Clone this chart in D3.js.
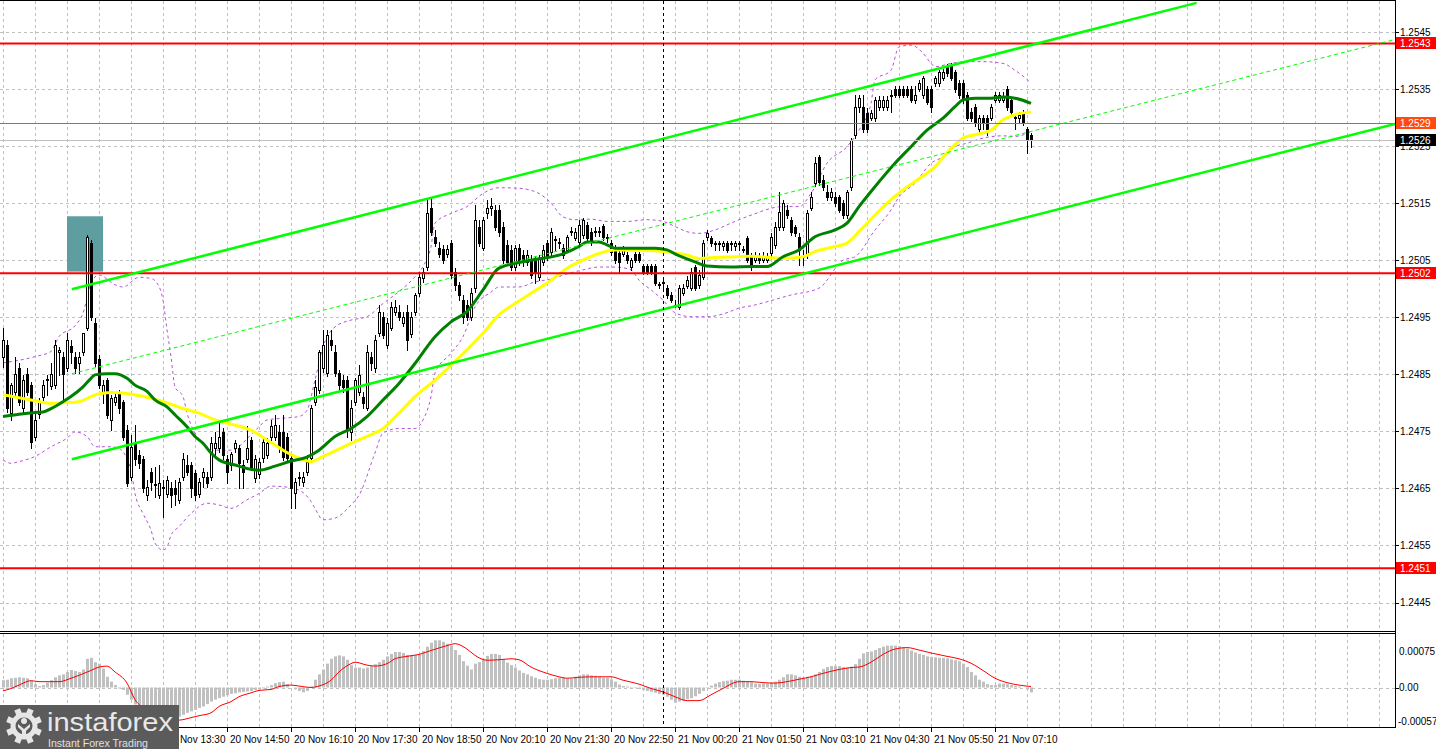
<!DOCTYPE html>
<html><head><meta charset="utf-8">
<script src="https://cdn.jsdelivr.net/npm/d3@7"></script>
<style>
body{margin:0;background:#fff;}
svg{display:block;}
text{font-family:"Liberation Sans",Arial,sans-serif;}
</style>
</head><body>
<svg id="c" width="1436" height="749"></svg>
<script>
// ---------------- DATA ----------------
const open=[1.24880,1.24901,1.24782,1.24819,1.24861,1.24791,1.24851,1.24831,1.24740,1.24780,
1.24810,1.24840,1.24830,1.24831,1.24889,1.24880,1.24861,1.24900,1.24880,1.24870,
1.24889,1.24931,1.25080,1.24940,1.24877,1.24819,1.24840,1.24770,1.24802,1.24819,
1.24802,1.24752,1.24670,1.24730,1.24709,1.24702,1.24639,1.24679,1.24656,1.24639,
1.24651,1.24640,1.24651,1.24651,1.24630,1.24670,1.24691,1.24691,1.24677,1.24640,
1.24670,1.24670,1.24670,1.24721,1.24721,1.24749,1.24702,1.24691,1.24721,1.24721,
1.24691,1.24702,1.24735,1.24668,1.24675,1.24703,1.24709,1.24740,1.24740,1.24749,
1.24749,1.24740,1.24703,1.24642,1.24668,1.24661,1.24679,1.24703,1.24802,1.24823,
1.24861,1.24852,1.24910,1.24889,1.24852,1.24840,1.24840,1.24749,1.24802,1.24819,
1.24810,1.24791,1.24880,1.24861,1.24922,1.24951,1.24901,1.24931,1.24959,1.24959,
1.24940,1.24959,1.24921,1.24959,1.24993,1.25019,1.25038,1.25142,1.25091,1.25071,
1.25070,1.25061,1.25080,1.25029,1.25007,1.24980,1.24972,1.24951,1.25001,1.25108,
1.25071,1.25133,1.25142,1.25138,1.25138,1.25108,1.25077,1.25068,1.25038,1.25071,
1.25059,1.25047,1.25050,1.25050,1.25021,1.25047,1.25080,1.25064,1.25085,1.25080,
1.25071,1.25068,1.25099,1.25089,1.25082,1.25094,1.25112,1.25099,1.25099,1.25099,
1.25110,1.25089,1.25080,1.25071,1.25063,1.25061,1.25059,1.25038,1.25061,1.25061,
1.25040,1.25040,1.25040,1.25040,1.25007,1.25010,1.25001,1.24989,1.24970,1.24968,
1.24993,1.25005,1.25001,1.25038,1.25007,1.25021,1.25091,1.25089,1.25078,1.25078,
1.25075,1.25080,1.25078,1.25075,1.25078,1.25068,1.25089,1.25057,1.25050,1.25057,
1.25050,1.25050,1.25063,1.25077,1.25108,1.25108,1.25138,1.25121,1.25108,1.25091,
1.25056,1.25059,1.25142,1.25185,1.25231,1.25191,1.25170,1.25161,1.25161,1.25161,
1.25150,1.25129,1.25178,1.25270,1.25319,1.25319,1.25308,1.25299,1.25299,1.25319,
1.25319,1.25319,1.25338,1.25350,1.25350,1.25350,1.25350,1.25350,1.25331,1.25350,
1.25340,1.25350,1.25350,1.25361,1.25361,1.25369,1.25390,1.25390,1.25380,1.25361,
1.25361,1.25340,1.25310,1.25319,1.25280,1.25299,1.25299,1.25299,1.25331,1.25331,
1.25331,1.25350,1.25331,1.25299,1.25299,1.25310,1.25280,1.25270];
const high=[1.24931,1.24910,1.24835,1.24880,1.24870,1.24849,1.24861,1.24837,1.24782,1.24809,
1.24840,1.24849,1.24870,1.24910,1.24898,1.24889,1.24922,1.24910,1.24889,1.24889,
1.24922,1.25094,1.25085,1.24949,1.24884,1.24840,1.24844,1.24814,1.24817,1.24823,
1.24805,1.24761,1.24744,1.24761,1.24717,1.24707,1.24665,1.24686,1.24688,1.24691,
1.24665,1.24672,1.24661,1.24665,1.24668,1.24712,1.24709,1.24696,1.24682,1.24668,
1.24686,1.24679,1.24740,1.24749,1.24770,1.24756,1.24709,1.24714,1.24735,1.24726,
1.24700,1.24759,1.24740,1.24709,1.24703,1.24740,1.24738,1.24770,1.24779,1.24761,
1.24779,1.24747,1.24709,1.24668,1.24679,1.24679,1.24709,1.24796,1.24840,1.24893,
1.24928,1.24928,1.24928,1.24901,1.24858,1.24849,1.24847,1.24805,1.24844,1.24866,
1.24819,1.24901,1.24889,1.24919,1.24972,1.24959,1.24949,1.24977,1.24980,1.24972,
1.24959,1.24972,1.24959,1.24993,1.25029,1.25036,1.25159,1.25161,1.25103,1.25082,
1.25077,1.25077,1.25085,1.25036,1.25012,1.24989,1.24980,1.25001,1.25147,1.25121,
1.25126,1.25156,1.25159,1.25147,1.25147,1.25117,1.25085,1.25077,1.25077,1.25078,
1.25068,1.25068,1.25059,1.25057,1.25059,1.25077,1.25085,1.25107,1.25092,1.25089,
1.25078,1.25094,1.25108,1.25107,1.25121,1.25124,1.25117,1.25107,1.25108,1.25108,
1.25114,1.25096,1.25085,1.25077,1.25068,1.25075,1.25064,1.25054,1.25064,1.25064,
1.25043,1.25043,1.25043,1.25043,1.25012,1.25015,1.25007,1.24994,1.24980,1.25007,
1.25008,1.25022,1.25036,1.25042,1.25033,1.25085,1.25103,1.25092,1.25084,1.25084,
1.25084,1.25084,1.25084,1.25084,1.25084,1.25075,1.25092,1.25063,1.25064,1.25063,
1.25064,1.25063,1.25098,1.25117,1.25170,1.25156,1.25147,1.25126,1.25112,1.25098,
1.25068,1.25138,1.25170,1.25231,1.25234,1.25199,1.25182,1.25177,1.25170,1.25164,
1.25156,1.25173,1.25264,1.25340,1.25340,1.25340,1.25317,1.25313,1.25336,1.25338,
1.25338,1.25338,1.25348,1.25355,1.25355,1.25355,1.25355,1.25355,1.25355,1.25366,
1.25373,1.25355,1.25355,1.25373,1.25383,1.25385,1.25394,1.25396,1.25383,1.25366,
1.25366,1.25345,1.25317,1.25324,1.25305,1.25305,1.25305,1.25324,1.25345,1.25345,
1.25345,1.25355,1.25336,1.25305,1.25310,1.25313,1.25284,1.25273];
const low=[1.24863,1.24784,1.24770,1.24814,1.24796,1.24782,1.24814,1.24721,1.24735,1.24773,
1.24805,1.24814,1.24824,1.24826,1.24849,1.24800,1.24856,1.24870,1.24852,1.24852,
1.24884,1.24928,1.24945,1.24865,1.24826,1.24800,1.24773,1.24752,1.24796,1.24782,
1.24735,1.24654,1.24665,1.24691,1.24686,1.24644,1.24630,1.24647,1.24635,1.24633,
1.24600,1.24635,1.24617,1.24621,1.24624,1.24665,1.24674,1.24635,1.24630,1.24635,
1.24653,1.24653,1.24665,1.24703,1.24714,1.24702,1.24660,1.24682,1.24714,1.24651,
1.24651,1.24696,1.24682,1.24661,1.24668,1.24696,1.24703,1.24735,1.24735,1.24714,
1.24700,1.24696,1.24616,1.24616,1.24656,1.24654,1.24674,1.24696,1.24796,1.24817,
1.24854,1.24847,1.24893,1.24847,1.24823,1.24819,1.24740,1.24735,1.24796,1.24814,
1.24791,1.24787,1.24858,1.24854,1.24917,1.24914,1.24896,1.24928,1.24954,1.24945,
1.24935,1.24893,1.24915,1.24954,1.24987,1.25012,1.25033,1.25094,1.25075,1.25056,
1.25045,1.25056,1.25019,1.24998,1.24980,1.24940,1.24945,1.24945,1.24994,1.25075,
1.25068,1.25124,1.25129,1.25103,1.25092,1.25045,1.25042,1.25033,1.25033,1.25042,
1.25040,1.25042,1.25019,1.25010,1.25015,1.25042,1.25050,1.25059,1.25068,1.25071,
1.25054,1.25064,1.25094,1.25085,1.25077,1.25089,1.25085,1.25077,1.25092,1.25092,
1.25085,1.25082,1.25059,1.25045,1.25029,1.25057,1.25045,1.25033,1.25047,1.25047,
1.25026,1.25026,1.25026,1.25007,1.25001,1.25001,1.24984,1.24977,1.24968,1.24965,
1.24989,1.25001,1.24998,1.24998,1.25001,1.25017,1.25085,1.25075,1.25068,1.25068,
1.25068,1.25064,1.25068,1.25068,1.25068,1.25064,1.25047,1.25033,1.25047,1.25045,
1.25047,1.25047,1.25057,1.25071,1.25103,1.25103,1.25124,1.25094,1.25092,1.25042,
1.25042,1.25054,1.25138,1.25180,1.25182,1.25173,1.25156,1.25156,1.25145,1.25135,
1.25124,1.25124,1.25173,1.25264,1.25310,1.25275,1.25275,1.25296,1.25294,1.25313,
1.25313,1.25313,1.25310,1.25336,1.25336,1.25336,1.25336,1.25327,1.25326,1.25347,
1.25334,1.25324,1.25310,1.25355,1.25355,1.25366,1.25373,1.25366,1.25345,1.25334,
1.25326,1.25296,1.25294,1.25285,1.25275,1.25280,1.25270,1.25296,1.25327,1.25327,
1.25327,1.25313,1.25305,1.25280,1.25292,1.25287,1.25238,1.25248];
const close=[1.24910,1.24791,1.24831,1.24851,1.24802,1.24840,1.24819,1.24731,1.24770,1.24802,
1.24831,1.24842,1.24851,1.24901,1.24893,1.24851,1.24910,1.24889,1.24861,1.24880,
1.24922,1.25091,1.24951,1.24870,1.24831,1.24831,1.24779,1.24809,1.24810,1.24791,
1.24740,1.24660,1.24723,1.24702,1.24695,1.24651,1.24653,1.24661,1.24658,1.24660,
1.24653,1.24665,1.24639,1.24640,1.24661,1.24702,1.24679,1.24651,1.24639,1.24661,
1.24679,1.24660,1.24730,1.24730,1.24740,1.24709,1.24679,1.24710,1.24730,1.24695,
1.24679,1.24721,1.24688,1.24702,1.24696,1.24731,1.24730,1.24759,1.24761,1.24721,
1.24705,1.24703,1.24651,1.24661,1.24670,1.24670,1.24696,1.24791,1.24828,1.24889,
1.24901,1.24919,1.24901,1.24852,1.24831,1.24828,1.24752,1.24791,1.24840,1.24849,
1.24800,1.24889,1.24870,1.24910,1.24959,1.24919,1.24940,1.24968,1.24968,1.24951,
1.24951,1.24910,1.24951,1.24989,1.25021,1.25029,1.25133,1.25099,1.25080,1.25061,
1.25050,1.25070,1.25024,1.25007,1.24989,1.24951,1.24951,1.24993,1.25121,1.25080,
1.25121,1.25142,1.25145,1.25108,1.25099,1.25050,1.25047,1.25038,1.25071,1.25047,
1.25047,1.25059,1.25024,1.25029,1.25054,1.25068,1.25056,1.25099,1.25087,1.25082,
1.25059,1.25091,1.25101,1.25099,1.25112,1.25121,1.25089,1.25082,1.25101,1.25101,
1.25091,1.25091,1.25064,1.25050,1.25047,1.25070,1.25050,1.25050,1.25050,1.25050,
1.25029,1.25029,1.25029,1.25010,1.25008,1.25012,1.24989,1.24980,1.24972,1.25001,
1.25001,1.25015,1.25029,1.25001,1.25024,1.25080,1.25098,1.25080,1.25080,1.25080,
1.25080,1.25068,1.25080,1.25080,1.25080,1.25070,1.25050,1.25038,1.25057,1.25050,
1.25057,1.25056,1.25091,1.25108,1.25135,1.25150,1.25129,1.25099,1.25098,1.25068,
1.25057,1.25133,1.25161,1.25220,1.25187,1.25178,1.25161,1.25170,1.25150,1.25138,
1.25129,1.25170,1.25261,1.25319,1.25334,1.25280,1.25280,1.25308,1.25331,1.25331,
1.25331,1.25331,1.25340,1.25340,1.25340,1.25340,1.25340,1.25331,1.25340,1.25361,
1.25369,1.25327,1.25319,1.25369,1.25380,1.25380,1.25378,1.25369,1.25350,1.25340,
1.25331,1.25299,1.25299,1.25291,1.25299,1.25291,1.25280,1.25319,1.25340,1.25340,
1.25338,1.25319,1.25310,1.25301,1.25305,1.25291,1.25261,1.25261];

// moving averages / bands: [bar index, price]
const maGreen=[[0,1.24776],[4,1.24780],[8,1.24783],[10,1.24784],[12,1.24790],[15,1.24802],[17,1.24811],[20,1.24828],[22,1.24843],[23,1.24849],
[26,1.24851],[28,1.24851],[31,1.24843],[33,1.24831],[36,1.24820],[38,1.24805],[41,1.24793],[43,1.24779],[46,1.24758],[48,1.24741],
[50,1.24729],[52,1.24712],[54,1.24700],[58,1.24691],[61,1.24685],[64,1.24682],[68,1.24689],[72,1.24698],[76,1.24705],[79,1.24717],
[83,1.24741],[87,1.24755],[91,1.24776],[95,1.24805],[99,1.24834],[103,1.24869],[108,1.24916],[112,1.24942],[116,1.24960],[120,1.24998],
[124,1.25036],[132,1.25050],[140,1.25061],[144,1.25074],[146,1.25082],[149,1.25082],[151,1.25077],[153,1.25071],[163,1.25071],[166,1.25068],
[168,1.25061],[173,1.25047],[176,1.25040],[182,1.25038],[187,1.25039],[191,1.25039],[195,1.25056],[199,1.25068],[203,1.25091],[208,1.25103],
[211,1.25115],[214,1.25144],[218,1.25179],[223,1.25220],[227,1.25249],[231,1.25278],[235,1.25299],[238,1.25319],[240,1.25331],[243,1.25334],
[247,1.25334],[250,1.25336],[253,1.25334],[257,1.25325]];
const maYellow=[[0,1.24814],[7,1.24805],[12,1.24799],[15,1.24800],[19,1.24802],[22,1.24811],[24,1.24816],[28,1.24818],[33,1.24814],[37,1.24808],
[41,1.24800],[45,1.24790],[49,1.24782],[53,1.24770],[58,1.24761],[62,1.24752],[66,1.24735],[70,1.24717],[73,1.24706],[77,1.24697],
[80,1.24706],[87,1.24729],[91,1.24741],[95,1.24755],[99,1.24782],[103,1.24811],[108,1.24840],[112,1.24866],[116,1.24893],[120,1.24922],
[124,1.24954],[128,1.24974],[132,1.24992],[137,1.25015],[141,1.25036],[145,1.25050],[149,1.25062],[153,1.25068],[158,1.25068],[166,1.25065],
[171,1.25059],[174,1.25053],[179,1.25055],[183,1.25056],[187,1.25057],[195,1.25053],[200,1.25056],[203,1.25065],[208,1.25074],[211,1.25080],
[214,1.25100],[218,1.25129],[222,1.25156],[225,1.25173],[228,1.25188],[233,1.25214],[237,1.25246],[240,1.25264],[243,1.25270],[247,1.25278],
[250,1.25296],[253,1.25305],[257,1.25310]];
const bandUpper=[[0,1.24870],[8,1.24881],[12,1.24890],[14,1.24916],[18,1.24935],[20,1.24957],[22,1.25010],[24,1.25024],[28,1.25007],[30,1.25003],
[34,1.25020],[37,1.25018],[39,1.25004],[40,1.24980],[41,1.24928],[42,1.24881],[43,1.24828],[45,1.24811],[46,1.24782],[48,1.24747],
[50,1.24729],[53,1.24717],[57,1.24717],[62,1.24744],[64,1.24758],[66,1.24770],[70,1.24773],[74,1.24776],[76,1.24787],[78,1.24840],
[80,1.24898],[83,1.24933],[87,1.24945],[91,1.24951],[95,1.24974],[99,1.24995],[103,1.25021],[105,1.25039],[107,1.25074],[108,1.25115],
[112,1.25132],[116,1.25144],[120,1.25167],[124,1.25177],[129,1.25176],[134,1.25167],[137,1.25150],[140,1.25126],[143,1.25121],[147,1.25122],
[151,1.25118],[156,1.25118],[161,1.25121],[165,1.25118],[168,1.25109],[171,1.25100],[174,1.25097],[178,1.25103],[182,1.25115],[187,1.25129],
[195,1.25144],[199,1.25144],[202,1.25167],[206,1.25220],[211,1.25249],[214,1.25278],[217,1.25325],[218,1.25366],[222,1.25383],[224,1.25424],
[227,1.25427],[230,1.25413],[232,1.25395],[233,1.25389],[237,1.25395],[241,1.25398],[245,1.25398],[250,1.25395],[253,1.25383],[257,1.25361]];
const bandLower=[[0,1.24700],[2,1.24694],[4,1.24697],[8,1.24706],[12,1.24723],[16,1.24738],[18,1.24749],[21,1.24741],[23,1.24723],[27,1.24723],
[29,1.24720],[32,1.24682],[33,1.24641],[35,1.24606],[37,1.24577],[38,1.24554],[40,1.24542],[41,1.24547],[42,1.24568],[44,1.24583],
[47,1.24606],[51,1.24624],[54,1.24621],[57,1.24615],[61,1.24630],[64,1.24641],[67,1.24654],[70,1.24653],[74,1.24647],[77,1.24627],
[78,1.24615],[80,1.24595],[83,1.24598],[87,1.24621],[89,1.24638],[93,1.24712],[95,1.24747],[99,1.24755],[103,1.24755],[105,1.24770],
[107,1.24811],[108,1.24852],[112,1.24887],[115,1.24916],[118,1.24968],[122,1.24994],[124,1.25003],[129,1.25003],[133,1.25012],[137,1.25017],
[141,1.25026],[145,1.25033],[149,1.25038],[153,1.25038],[157,1.25033],[159,1.25015],[162,1.24998],[165,1.24980],[168,1.24958],[172,1.24951],
[176,1.24951],[181,1.24958],[184,1.24966],[187,1.24970],[197,1.24989],[204,1.25001],[210,1.25050],[213,1.25056],[218,1.25103],[222,1.25138],
[224,1.25161],[228,1.25185],[232,1.25220],[235,1.25231],[238,1.25249],[241,1.25255],[245,1.25264],[250,1.25268],[253,1.25267],[257,1.25275]];

// MACD histogram (one per bar) and signal line samples
const macdHist=[15e-5,16e-5,19e-5,20e-5,21e-5,20e-5,19e-5,14e-5,7e-5,3e-5,
5e-5,10e-5,15e-5,21e-5,25e-5,27e-5,32e-5,36e-5,34e-5,32e-5,
37e-5,59e-5,61e-5,52e-5,49e-5,39e-5,22e-5,12e-5,5e-5,-2e-5,
-5e-5,-15e-5,-25e-5,-35e-5,-44e-5,-52e-5,-59e-5,-62e-5,-64e-5,-66e-5,
-67e-5,-67e-5,-66e-5,-64e-5,-60e-5,-56e-5,-52e-5,-49e-5,-46e-5,-42e-5,
-39e-5,-34e-5,-29e-5,-25e-5,-22e-5,-19e-5,-16e-5,-13e-5,-12e-5,-10e-5,
-9e-5,-8e-5,-7e-5,-5e-5,-4e-5,-2e-5,2e-5,5e-5,9e-5,11e-5,
12e-5,7e-5,0,-4e-5,-7e-5,-10e-5,-7e-5,2e-5,16e-5,27e-5,
37e-5,49e-5,59e-5,64e-5,66e-5,64e-5,57e-5,46e-5,41e-5,41e-5,
39e-5,41e-5,44e-5,48e-5,52e-5,57e-5,64e-5,69e-5,73e-5,
73e-5,71e-5,67e-5,67e-5,67e-5,68e-5,75e-5,84e-5,92e-5,97e-5,
97e-5,94e-5,90e-5,86e-5,77e-5,67e-5,54e-5,45e-5,37e-5,49e-5,
52e-5,58e-5,65e-5,69e-5,69e-5,67e-5,58e-5,51e-5,46e-5,41e-5,
35e-5,30e-5,27e-5,23e-5,20e-5,17e-5,16e-5,16e-5,17e-5,19e-5,
20e-5,20e-5,18e-5,18e-5,22e-5,25e-5,27e-5,27e-5,25e-5,24e-5,
22e-5,20e-5,20e-5,17e-5,12e-5,6e-5,3e-5,2e-5,1e-5,-1e-5,
-3e-5,-5e-5,-7e-5,-9e-5,-11e-5,-13e-5,-15e-5,-19e-5,-25e-5,-31e-5,
-29e-5,-27e-5,-24e-5,-22e-5,-18e-5,-13e-5,-7e-5,-1e-5,4e-5,8e-5,
11e-5,13e-5,14e-5,16e-5,16e-5,16e-5,14e-5,13e-5,11e-5,8e-5,
7e-5,8e-5,8e-5,10e-5,12e-5,16e-5,21e-5,27e-5,27e-5,25e-5,
22e-5,20e-5,22e-5,23e-5,27e-5,32e-5,38e-5,42e-5,44e-5,44e-5,
44e-5,42e-5,41e-5,43e-5,48e-5,59e-5,70e-5,73e-5,74e-5,77e-5,
81e-5,84e-5,86e-5,86e-5,86e-5,85e-5,83e-5,80e-5,76e-5,72e-5,
69e-5,67e-5,64e-5,63e-5,62e-5,61e-5,61e-5,60e-5,58e-5,56e-5,
54e-5,49e-5,42e-5,32e-5,25e-5,16e-5,12e-5,7e-5,5e-5,5e-5,
8e-5,8e-5,7e-5,5e-5,3e-5,2e-5,0,-4e-5,-10e-5];
const macdSignal=[[0,-7e-5],[2,-2e-5],[4,5e-5],[7,14e-5],[9,12e-5],[14,12e-5],[17,19e-5],[19,25e-5],[22,35e-5],[24,42e-5],
[26,44e-5],[28,32e-5],[31,9e-5],[33,-25e-5],[36,-46e-5],[38,-60e-5],[41,-67e-5],[44,-67e-5],[47,-62e-5],[49,-58e-5],
[52,-52e-5],[54,-39e-5],[57,-29e-5],[59,-19e-5],[62,-11e-5],[64,-6e-5],[67,-4e-5],[69,2e-5],[72,5e-5],[74,3e-5],
[77,0],[79,3e-5],[82,15e-5],[84,32e-5],[87,49e-5],[88,52e-5],[91,46e-5],[93,44e-5],[96,49e-5],[98,59e-5],
[101,64e-5],[104,68e-5],[107,76e-5],[111,86e-5],[113,90e-5],[116,79e-5],[118,66e-5],[121,56e-5],[124,57e-5],[127,59e-5],
[129,57e-5],[132,42e-5],[136,29e-5],[139,22e-5],[141,19e-5],[144,21e-5],[148,22e-5],[152,22e-5],[155,15e-5],[159,7e-5],
[162,-2e-5],[165,-9e-5],[168,-19e-5],[171,-27e-5],[174,-27e-5],[177,-15e-5],[180,-2e-5],[184,12e-5],[187,12e-5],[190,10e-5],
[193,9e-5],[196,12e-5],[199,17e-5],[202,22e-5],[205,29e-5],[209,37e-5],[212,41e-5],[214,42e-5],[217,52e-5],[220,68e-5],
[223,79e-5],[226,82e-5],[229,77e-5],[232,71e-5],[236,64e-5],[239,59e-5],[242,50e-5],[245,35e-5],[248,19e-5],[251,10e-5],
[254,5e-5],[257,2e-5]];

// objects
const levels=[1.2543,1.25027,1.2451];
const levelLabels=["1.2543","1.2502","1.2451"];
const askPrice=1.2529, askLabel="1.2529";
const bidLabel="1.2526";
const channelUpper=[[17.2,1.24999],[298.4,1.25501]];
const channelLower=[[17.2,1.24701],[348,1.25289]];
const channelMid=[[17.2,1.24851],[347.5,1.25436]];
const signalBox={from:16,to:25,top:1.25127,bottom:1.25030};
const crosshairBar=165;

// axes
const priceTicks=[1.2545,1.2535,1.2525,1.2515,1.2505,1.2495,1.2485,1.2475,1.2465,1.2455,1.2445];
const macdTicks=[0.00075,0];
const macdTickLabels=["0.00075","0.00"];
const macdMinLabel="-0.00057";
const timeIdx=[40,56,72,88,104,120,136,152,168,184,200,216,232,248];
const timeLabels=["20 Nov 13:30","20 Nov 14:50","20 Nov 16:10","20 Nov 17:30","20 Nov 18:50","20 Nov 20:10","20 Nov 21:30","20 Nov 22:50","21 Nov 00:20","21 Nov 01:50","21 Nov 03:10","21 Nov 04:30","21 Nov 05:50","21 Nov 07:10"];

// ---------------- DRAW ----------------
const PR=1395, MT=1, MB=631, DT=634, DB=727;
const svg=d3.select('#c');
const x=d3.scaleLinear().domain([0,257]).range([3,1031]);
const y=d3.scaleLinear().domain([1.2445,1.2545]).range([602.5,32]);
const my=d3.scaleLinear().domain([0,0.00075]).range([687.5,651]);

const defs=svg.append('defs');
defs.append('clipPath').attr('id','cm').append('rect').attr('x',0).attr('y',MT).attr('width',PR).attr('height',MB-MT);
defs.append('clipPath').attr('id','cd').append('rect').attr('x',0).attr('y',DT).attr('width',PR).attr('height',DB-DT);

const gMain=svg.append('g').attr('clip-path','url(#cm)');
const gMacd=svg.append('g').attr('clip-path','url(#cd)');
const grid='#c0c0c0';
const px=v=>Math.round(v)+0.5;

// vertical grid
const vgrid=d3.range(0,345,8);
[gMain,gMacd].forEach((g,i)=>{
  g.selectAll('line.vg').data(vgrid).join('line').attr('class','vg')
   .attr('x1',d=>x(d)+0.5).attr('x2',d=>x(d)+0.5)
   .attr('y1',i?DT:MT).attr('y2',i?DB:MB)
   .attr('stroke',grid).attr('stroke-dasharray','3,3');
});
gMain.selectAll('line.hg').data(priceTicks).join('line')
  .attr('x1',0).attr('x2',PR).attr('y1',d=>px(y(d))).attr('y2',d=>px(y(d)))
  .attr('stroke',grid).attr('stroke-dasharray','3,3');
gMacd.append('line').attr('x1',0).attr('x2',PR).attr('y1',px(my(0))).attr('y2',px(my(0)))
  .attr('stroke',grid).attr('stroke-dasharray','3,3');

// signal rectangle
gMain.append('rect').attr('x',x(signalBox.from)).attr('width',x(signalBox.to)-x(signalBox.from))
  .attr('y',y(signalBox.top)).attr('height',y(signalBox.bottom)-y(signalBox.top)).attr('fill','#5f9ea0');

// bands
const ln=d3.line().x(d=>x(d[0])).y(d=>y(d[1])).curve(d3.curveMonotoneX);
[bandUpper,bandLower].forEach(b=>gMain.append('path').attr('d',ln(b)).attr('fill','none')
  .attr('stroke','#b452d8').attr('stroke-width',1).attr('stroke-dasharray','3,3'));

// candles
const idx=d3.range(close.length);
gMain.selectAll('line.wick').data(idx).join('line')
  .attr('x1',i=>x(i)+0.5).attr('x2',i=>x(i)+0.5)
  .attr('y1',i=>Math.round(y(high[i]))).attr('y2',i=>Math.round(y(low[i]))+1)
  .attr('stroke','#000').attr('stroke-width',1);
gMain.selectAll('rect.body').data(idx).join('rect')
  .attr('x',i=>x(i)-0.5).attr('width',2)
  .attr('y',i=>Math.round(y(Math.max(open[i],close[i])))+0.5)
  .attr('height',i=>Math.max(0,Math.round(y(Math.min(open[i],close[i])))-Math.round(y(Math.max(open[i],close[i])))))
  .attr('fill',i=>close[i]>=open[i]?'#fff':'#000').attr('stroke','#000').attr('stroke-width',1);

// moving averages
gMain.append('path').attr('d',ln(maYellow)).attr('fill','none').attr('stroke','#ffff00').attr('stroke-width',3);
gMain.append('path').attr('d',ln(maGreen)).attr('fill','none').attr('stroke','#008000').attr('stroke-width',3);

// ask / bid lines
gMain.append('line').attr('x1',0).attr('x2',PR).attr('y1',px(y(askPrice))).attr('y2',px(y(askPrice))).attr('stroke','#ff4a10').attr('stroke-width',1);
const bid=close[close.length-1];
gMain.append('line').attr('x1',0).attr('x2',PR).attr('y1',px(y(bid))).attr('y2',px(y(bid))).attr('stroke','#c0c0c0').attr('stroke-width',1);

// red levels
gMain.selectAll('line.lvl').data(levels).join('line')
  .attr('x1',0).attr('x2',PR).attr('y1',d=>y(d)).attr('y2',d=>y(d)).attr('stroke','#ff0000').attr('stroke-width',2);

// channel
const lin=d3.line().x(d=>x(d[0])).y(d=>y(d[1]));
gMain.append('path').attr('d',lin(channelUpper)).attr('stroke','#00ff00').attr('stroke-width',2.5).attr('fill','none');
gMain.append('path').attr('d',lin(channelLower)).attr('stroke','#00ff00').attr('stroke-width',2.5).attr('fill','none');
gMain.append('path').attr('d',lin(channelMid)).attr('stroke','#00ff00').attr('stroke-width',1).attr('stroke-dasharray','4,3').attr('fill','none');

// MACD
gMacd.selectAll('rect.h').data(idx).join('rect')
  .attr('x',i=>x(i)-1).attr('width',3)
  .attr('y',i=>Math.min(my(0),my(macdHist[i]))).attr('height',i=>Math.abs(my(macdHist[i])-my(0)))
  .attr('fill','#c0c0c0');
gMacd.append('path').attr('d',d3.line().x(d=>x(d[0])).y(d=>my(d[1])).curve(d3.curveMonotoneX)(macdSignal))
  .attr('fill','none').attr('stroke','#ff0000').attr('stroke-width',1);

// crosshair
svg.append('line').attr('x1',x(crosshairBar)+0.5).attr('x2',x(crosshairBar)+0.5).attr('y1',MT).attr('y2',DB)
  .attr('stroke','#000').attr('stroke-dasharray','3,3');

// frames
const fr=svg.append('g').attr('stroke','#000').attr('stroke-width',1);
fr.append('line').attr('x1',0).attr('x2',PR).attr('y1',0.5).attr('y2',0.5);
fr.append('line').attr('x1',0).attr('x2',PR).attr('y1',MB+0.5).attr('y2',MB+0.5);
fr.append('line').attr('x1',0).attr('x2',PR).attr('y1',DT-0.5).attr('y2',DT-0.5);
fr.append('line').attr('x1',0).attr('x2',PR+1).attr('y1',DB+0.5).attr('y2',DB+0.5);
fr.append('line').attr('x1',PR+0.5).attr('x2',PR+0.5).attr('y1',0).attr('y2',DB+1);

// price axis
const ax=svg.append('g').attr('font-size',10);
ax.selectAll('line.pt').data(priceTicks).join('line').attr('x1',PR).attr('x2',PR+4)
  .attr('y1',d=>px(y(d))).attr('y2',d=>px(y(d))).attr('stroke','#000');
ax.selectAll('text.pt').data(priceTicks).join('text').attr('x',PR+5).attr('y',d=>y(d)+3.5)
  .text(d=>d.toFixed(4)).attr('fill','#000');
function tag(val,label,color){
  const yy=Math.round(y(val));
  ax.append('rect').attr('x',PR+1).attr('y',yy-6).attr('width',1436-PR-1).attr('height',12).attr('fill',color);
  ax.append('text').attr('x',PR+5).attr('y',yy+4).attr('fill','#fff').text(label);
}
levels.forEach((v,i)=>tag(v,levelLabels[i],'#ff0000'));
tag(askPrice,askLabel,'#ff4a10');
tag(bid,bidLabel,'#000');

// macd axis
ax.selectAll('text.mt').data(macdTicks).join('text').attr('x',PR+4).attr('y',d=>my(d)+3.5)
  .text((d,i)=>macdTickLabels[i]).attr('fill','#000');
ax.append('line').attr('x1',PR).attr('x2',PR+4).attr('y1',px(my(0))).attr('y2',px(my(0))).attr('stroke','#000');
ax.append('text').attr('x',PR+3).attr('y',DB-2).text(macdMinLabel).attr('fill','#000');

// time axis
ax.selectAll('line.tt').data(timeIdx).join('line').attr('x1',d=>x(d)+0.5).attr('x2',d=>x(d)+0.5)
  .attr('y1',DB).attr('y2',DB+5).attr('stroke','#000');
ax.selectAll('text.tt').data(timeIdx).join('text').attr('x',d=>x(d)+3).attr('y',743)
  .text((d,i)=>timeLabels[i]).attr('fill','#000');

// logo
const lg=svg.append('g');
lg.append('rect').attr('x',0).attr('y',705).attr('width',179).attr('height',44).attr('fill','#5b5b5b');
const gc={x:24,y:726};
lg.append('circle').attr('cx',gc.x).attr('cy',gc.y).attr('r',11).attr('fill','none').attr('stroke','#e6e6e6').attr('stroke-width',5);
d3.range(8).forEach(k=>{
  lg.append('rect').attr('x',gc.x-3).attr('y',gc.y-18).attr('width',6).attr('height',6).attr('fill','#e6e6e6')
    .attr('transform',`rotate(${k*45+22.5},${gc.x},${gc.y})`);
});
lg.append('circle').attr('cx',gc.x).attr('cy',gc.y-5).attr('r',3).attr('fill','#e6e6e6');
lg.append('path').attr('d',`M${gc.x-6},${gc.y-2} L${gc.x},${gc.y+3} L${gc.x+6},${gc.y-2} L${gc.x+6},${gc.y+1} L${gc.x+2},${gc.y+5} L${gc.x+2},${gc.y+10} L${gc.x-2},${gc.y+10} L${gc.x-2},${gc.y+5} L${gc.x-6},${gc.y+1} Z`).attr('fill','#e6e6e6');
lg.append('text').attr('x',47).attr('y',731).attr('font-size',26).attr('fill','#e8e8e8')
  .attr('font-family','"Open Sans",Lato,sans-serif').attr('font-weight',300)
  .attr('textLength',126).attr('lengthAdjust','spacingAndGlyphs').text('instaforex');
lg.append('text').attr('x',48).attr('y',746.5).attr('font-size',10.5).attr('fill','#e0e0e0')
  .attr('font-family','"Open Sans",Lato,sans-serif')
  .attr('textLength',100).attr('lengthAdjust','spacingAndGlyphs').text('Instant Forex Trading');
</script>
</body></html>
